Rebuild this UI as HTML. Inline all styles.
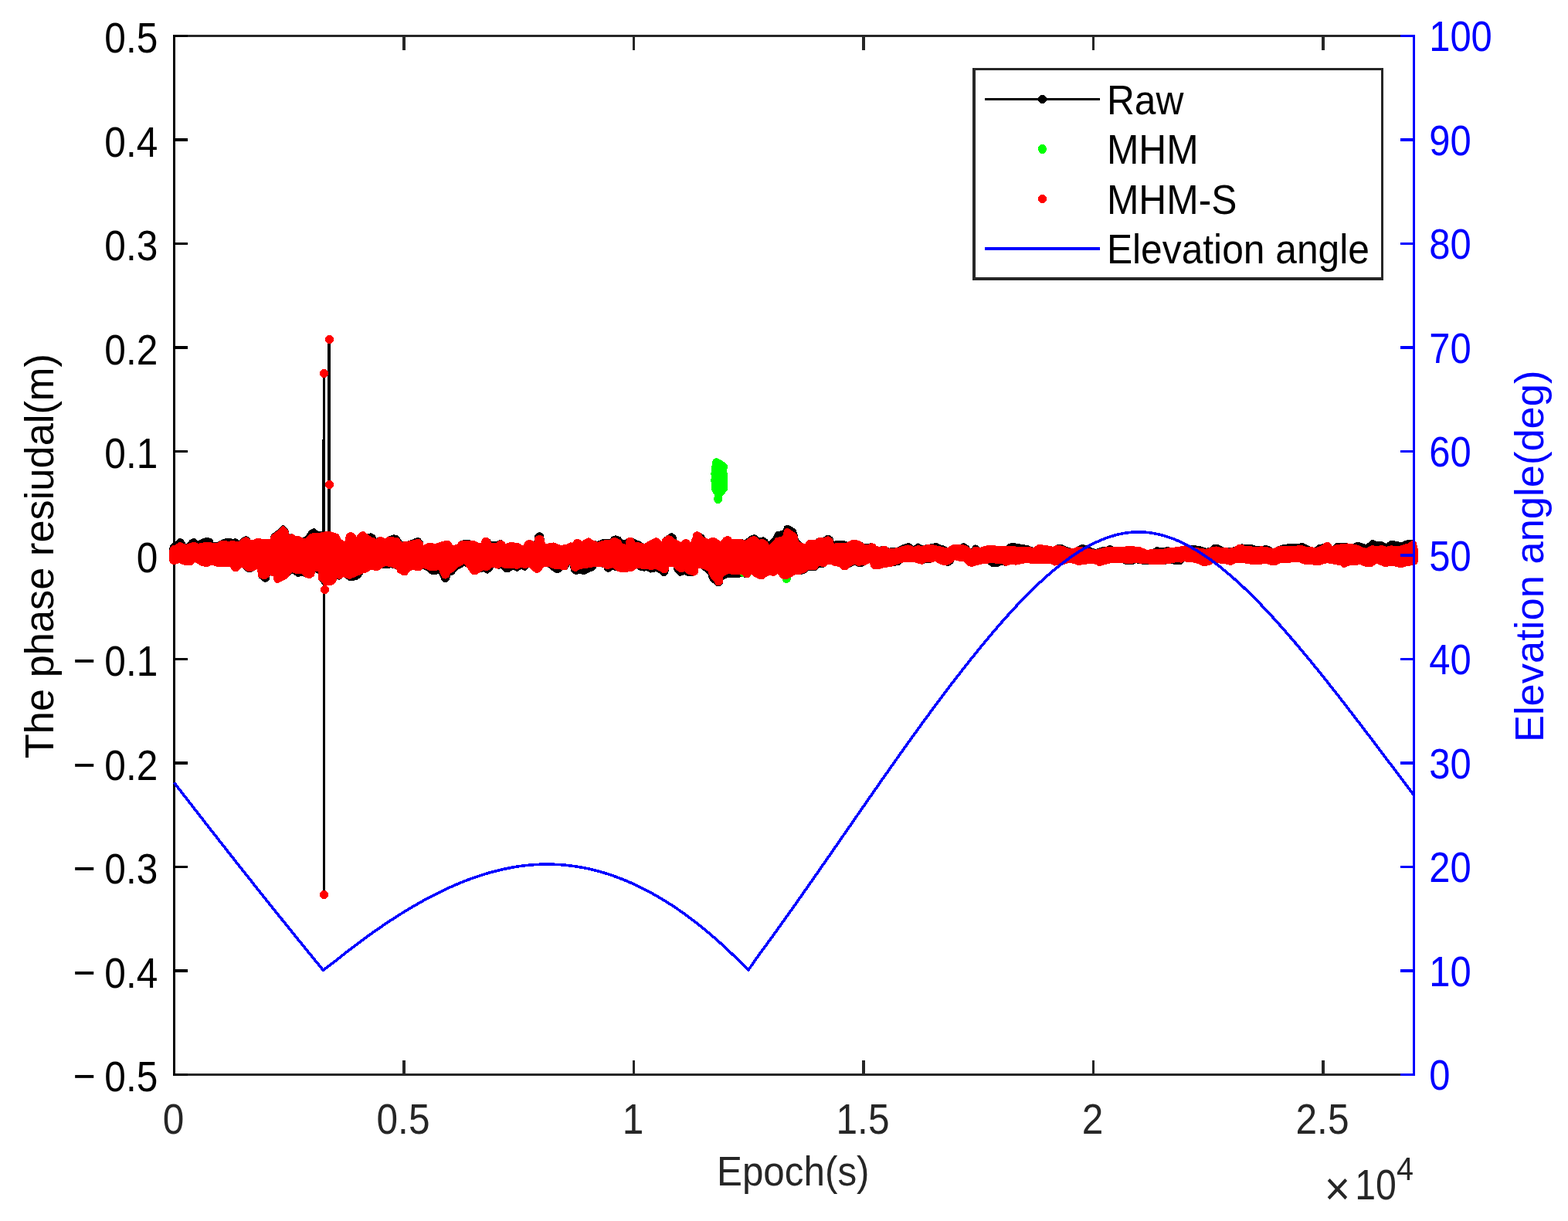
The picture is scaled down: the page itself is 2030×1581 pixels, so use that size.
<!DOCTYPE html>
<html lang="en"><head><meta charset="utf-8"><title>Phase residual and elevation angle</title>
<style>html,body{margin:0;padding:0;background:#fff;overflow:hidden}svg{display:block}text{font-family:"Liberation Sans",Arial,Helvetica,sans-serif;white-space:pre}</style>
</head><body>
<svg xmlns="http://www.w3.org/2000/svg" width="2030" height="1581" viewBox="0 0 2030 1581">
<rect x="0" y="0" width="2030" height="1581" fill="#ffffff"/>
<g shape-rendering="crispEdges">
<rect x="224" y="45" width="1608" height="3" fill="#262626"/>
<rect x="224" y="1390" width="1608" height="3" fill="#262626"/>
<rect x="521" y="1373" width="4" height="18" fill="#262626"/>
<rect x="521" y="47" width="4" height="18" fill="#262626"/>
<rect x="819" y="1373" width="3" height="18" fill="#262626"/>
<rect x="819" y="47" width="3" height="18" fill="#262626"/>
<rect x="1116" y="1373" width="4" height="18" fill="#262626"/>
<rect x="1116" y="47" width="4" height="18" fill="#262626"/>
<rect x="1414" y="1373" width="3" height="18" fill="#262626"/>
<rect x="1414" y="47" width="3" height="18" fill="#262626"/>
<rect x="1711" y="1373" width="4" height="18" fill="#262626"/>
<rect x="1711" y="47" width="4" height="18" fill="#262626"/>
<rect x="224" y="45" width="3" height="1348" fill="#000"/>
<rect x="224" y="45" width="19" height="3" fill="#000"/>
<rect x="224" y="179" width="19" height="4" fill="#000"/>
<rect x="224" y="314" width="19" height="3" fill="#000"/>
<rect x="224" y="448" width="19" height="4" fill="#000"/>
<rect x="224" y="583" width="19" height="3" fill="#000"/>
<rect x="224" y="717" width="19" height="4" fill="#000"/>
<rect x="224" y="852" width="19" height="3" fill="#000"/>
<rect x="224" y="986" width="19" height="4" fill="#000"/>
<rect x="224" y="1121" width="19" height="3" fill="#000"/>
<rect x="224" y="1255" width="19" height="4" fill="#000"/>
<rect x="224" y="1390" width="19" height="3" fill="#000"/>
</g>
<g shape-rendering="crispEdges">
<rect x="418" y="483" width="3" height="675" fill="#000"/>
<rect x="417" y="569" width="4" height="131" fill="#000"/>
<rect x="424" y="439" width="4" height="261" fill="#000"/>
<path d="M219.87,707.62 219.4,709.39 219.4,726.13 219.56,727.21 220.04,728.18 220.79,728.97 223.1,730.76 223.94,731.25 224.89,731.49 225.86,731.47 226.8,731.19 231.71,728.96 239.92,732.3 247.96,731.71 248.91,731.49 249.77,731.03 252.35,727.98 259.88,732.37 260.95,732.79 267.12,734.09 268.25,734.14 269.34,733.85 274.23,731.65 278.81,733.29 280.02,733.5 296.73,733.5 301.65,738.98 303.01,739.93 303.82,740.14 306.48,740 308.16,739.41 313,734.2 318.02,739.72 322.38,741.28 324.04,741.07 328.87,739.25 333.02,736.88 334.48,747.08 335.5,748.51 341.31,753.35 342.87,754.09 344.6,754.01 348.22,751.89 349.13,750.4 349.56,745.07 354.13,746.27 354.4,750.98 354.96,752.69 356.27,753.92 358.43,754.99 359.3,755.11 360.98,754.72 365.36,752.48 371.71,748.84 372.54,748.18 377.98,742.39 384.64,746.91 386.33,747.13 390.76,745.65 395.57,747.96 399.92,749.05 400.94,749.15 401.95,748.97 405.95,746.33 406.73,745.58 407.26,744.63 407.47,743.57 407.64,740.17 411.51,743.1 411.67,749.26 412.14,750.94 418.35,757.49 419.13,758.09 420.05,758.45 421.04,758.55 428.42,758.24 430.04,757.79 435,753.16 435.39,752.31 435.55,751.4 435.65,749.14 438.12,750.5 439.83,750.61 441.39,749.92 444.73,747.33 451.82,751.8 453.38,752.01 460.72,751.36 462.35,750.81 467.07,747.66 470.2,742.51 474.84,741.2 475.8,740.76 480.51,737.74 487.35,739.29 488.36,739.37 489.35,739.17 490.24,738.7 494.29,735.8 498.7,735.8 506.93,735.4 513.31,737.19 514.07,739.92 514.46,740.81 515.07,741.57 521.4,745.05 522.93,745.46 526.19,744.83 527.59,743.67 530.58,739.5 535.48,737.74 539.17,739.26 540.92,739.52 544.08,739.06 547.64,736.61 552.65,739.49 556.5,742.74 557.29,743.25 558.18,743.53 563.65,744.37 567.9,742.77 571.77,751.26 572.36,752.2 574.55,753.72 575.49,754.12 576.5,754.24 577.51,754.07 578.43,753.63 581.14,751.67 581.96,750.12 583.1,745.46 586.42,744.36 587.37,743.88 588.14,743.14 592.08,737.99 596.72,735.98 597.83,735.22 600.83,732.22 605.63,736.29 608.81,741.56 612.49,744.14 614.2,744.37 616.88,743.98 620.74,741.46 625.8,740.34 629.88,742.6 630.75,742.74 632.47,742.37 636.38,739.1 639.69,734.74 644.07,736.68 645.08,736.96 646.13,736.93 648.5,735.92 653.31,740.43 654.13,741 655.08,741.33 656.08,741.38 659.47,740.94 663.31,738.1 664.86,738.1 668.65,739.77 669.61,739.81 670.55,739.6 674.91,736.63 677.99,738.61 678.91,738.8 679.86,738.75 680.76,738.45 681.55,737.93 685.43,734.55 688.54,738.23 689.38,738.96 693.44,741.49 694.38,741.9 695.4,742.03 696.41,741.87 697.34,741.43 700.28,739.38 704,733.94 709.54,734.57 714.41,738.89 719.75,741.88 720.68,742.24 721.67,742.33 722.65,742.15 725.97,740.9 728.29,738.38 731.84,738.18 733.42,737.71 734.63,736.59 737.63,732.09 739.66,740.31 740.9,741.66 743.93,743.61 744.93,744.05 746.02,744.18 747.09,743.97 750.8,742.64 755.64,744.23 756.6,744.18 757.52,743.86 763.15,741.04 769.16,738.43 770.1,737.84 770.81,736.99 772.43,734.31 781.46,734.59 782.46,737.73 783.33,739.17 784.75,740.05 786.44,740.61 787.5,740.8 788.56,740.66 789.54,740.21 792.73,738.13 798.44,739.18 804.64,741.41 815.03,740.3 818.14,740.13 819.13,739.64 824.7,735.68 825.83,737.43 826.62,738.03 827.55,738.39 834.01,739.8 837.67,738.86 840.14,740.81 841.04,741.33 842.04,741.57 843.07,741.52 849.13,740.32 854.16,742.5 856.86,745.21 857.72,745.85 858.72,746.2 859.79,746.25 861.75,745.87 862.68,745.29 864.88,742.05 865.38,740.67 866.42,733.5 871.52,733.5 872.71,738.89 873.11,739.93 873.82,740.79 879.35,745.58 880.28,745.89 881.26,745.94 886.36,744.16 889.91,745.97 890.8,746.28 891.74,746.36 898.64,745.9 901.96,744.13 903.25,742.89 903.63,742.07 904.07,735.8 906.71,735.8 911.83,739.47 916.17,743.14 918,749.47 920.73,753.85 922.09,754.73 923.94,755.41 926.82,758.69 927.78,759.14 930.91,759.3 932.04,759.12 933.05,758.59 935.01,756.97 935.5,756.13 935.75,755.18 936.26,750.81 942.72,747.91 952.02,748.27 960.79,747.21 965.07,747.91 968.65,748.07 969.62,747.73 970.45,747.13 972.75,743.36 976.37,746.74 977.23,747.33 982.98,750.17 983.91,750.48 984.89,750.52 987.5,750.29 989.03,749.79 991.95,747.09 996.92,744.56 999.73,745.74 1001.42,746.02 1003.04,745.47 1006.67,743.19 1011.55,748.93 1013.03,749.6 1017.86,750.45 1019.4,750.06 1023.59,747.93 1029.66,743.72 1037.18,744.39 1043.79,741.64 1044.76,741.02 1047.22,738.81 1054.75,739.14 1055.74,739.05 1056.67,738.69 1057.46,738.09 1060.93,734.62 1065.38,734.91 1066.35,734.85 1067.26,734.53 1071.53,730.8 1076.38,730.8 1078.7,732.55 1086.2,733.86 1089.74,737.59 1090.58,738 1091.5,738.17 1094.45,738.34 1096.12,738.03 1101.22,734.21 1106.92,731.31 1110.27,733.91 1111.98,734.24 1114.52,734.12 1115.7,733.86 1120.92,731.74 1126.29,728.6 1126.59,731.97 1127.2,733.66 1130.36,736.61 1131.15,737.14 1132.05,737.45 1133,737.51 1138.27,737.13 1144.74,735.09 1154.4,733.71 1163.5,731.87 1164.52,731.5 1165.38,730.85 1167.49,728.66 1174.13,727.7 1183.9,728.2 1193.37,730.97 1195.15,730.58 1198.84,728.7 1205.05,728.7 1206.33,728.47 1210.55,726.86 1217.69,730.89 1218.75,731.28 1227.88,732.99 1228.84,732.79 1229.71,732.33 1233.59,729.47 1236.42,724.99 1238.33,725.98 1239.58,726.36 1247.71,727.27 1251.87,731.86 1252.65,732.51 1256.89,733.84 1257.91,733.97 1258.92,733.81 1265.85,731.68 1272.69,730.19 1278.3,729.72 1282.96,733.66 1284.74,734.04 1291.82,733.72 1292.99,733.47 1297.33,731.74 1301.1,732.89 1302.21,733.05 1303.31,732.86 1308.18,731.21 1315.52,731.61 1329.78,728.72 1337.13,730.49 1351.45,730.2 1359.17,729.71 1363.96,732.15 1365.56,732.54 1374.17,730.7 1378.42,730.7 1379.76,730.44 1384.06,728.72 1391.59,730.17 1394.48,731.84 1396.19,732.31 1403.78,730.7 1413.48,730.2 1418.22,730.68 1421.87,732.73 1422.86,733.11 1423.91,733.18 1424.94,732.94 1429.47,731.18 1441.15,728.7 1452.77,729.2 1457.2,730.96 1458.39,731.22 1464.96,731.47 1466.6,731.15 1470.78,729.23 1477.73,730.51 1487.1,731.18 1492.32,730.7 1504.79,731.19 1514.99,729.71 1523.27,731.18 1528.47,730.96 1529.47,730.77 1530.38,730.31 1531.12,729.62 1532.97,727.32 1544.48,728.19 1552.17,730.66 1556.34,732.74 1557.32,733.06 1558.35,733.1 1566.38,732.06 1570.39,729.21 1583.91,729.7 1593.41,732.01 1595.08,731.62 1599.87,729.19 1605.59,728.7 1613.41,729.69 1621.68,731.2 1630.98,731.2 1638.17,729.72 1645.26,731.99 1646.62,732.16 1653.06,731.59 1658.05,728.71 1667.27,729.18 1674.65,727.7 1682.36,728.19 1687.69,730.45 1688.89,730.73 1697.25,731.2 1706.46,732.14 1707.83,732.01 1715.14,729.88 1718.6,729.21 1735.07,732.17 1738.29,734.41 1739.2,734.86 1740.2,735.05 1741.21,734.94 1742.15,734.56 1745.39,732.68 1760.81,731.21 1768.72,734.31 1775.83,733.78 1776.87,733.53 1777.79,732.98 1781.7,729.79 1792.44,733.99 1803.26,732.71 1813.01,735.33 1814.12,735.45 1815.22,735.22 1819.26,733.68 1828.16,732.15 1833.57,730.63 1834.37,730 1834.95,729.17 1836,727.12 1836.4,725.48 1836.37,717.04 1835.34,709.1 1833.55,702.08 1832.4,700.78 1828.48,699.18 1823.85,698.58 1822.04,698.87 1814.05,702.37 1808.28,700.9 1801.71,699.6 1800.78,699.77 1799.92,700.18 1794.38,703.79 1788.99,700.72 1787.25,700.64 1783.66,701.38 1777.65,698.99 1776.69,699 1775.75,699.26 1774.93,699.76 1768.66,704.84 1765.08,703.93 1758.44,701.64 1756.67,701.93 1751.02,704.38 1743.98,703.4 1735.33,703.4 1730.84,703.02 1729.8,703.08 1728.82,703.44 1727.99,704.06 1724.73,707.32 1723.95,705.29 1723.03,703.93 1720.17,702.2 1719.16,701.82 1718.07,701.75 1714.86,702.91 1711.81,704.42 1705.89,705.56 1702.01,708.77 1698.45,708.31 1692.57,705.96 1688.18,703.36 1686.54,702.86 1680.45,703.9 1671,703.71 1660.41,705.49 1654.42,707.47 1648.09,710.68 1644.33,707.45 1639.09,706.1 1637.29,706.13 1633.14,707.29 1625.42,706.81 1620.09,704.91 1618.88,704.7 1612.52,704.7 1607.88,704.42 1603.57,704.81 1602.52,705.08 1601.6,705.65 1598.46,708.32 1591.78,708.8 1584.17,708.8 1579.95,706.24 1575.14,704.53 1574.12,704.59 1570.4,705.47 1569.02,706.65 1567.84,708.36 1561.34,709.78 1554.18,707.26 1544.31,705.91 1533.96,706.29 1524.82,708.3 1515.08,708.8 1512.03,707.9 1504.21,709.29 1497.73,708.02 1496.76,708.21 1495.88,708.66 1492.09,711.31 1484.61,711.79 1477.27,708.54 1476.2,708.25 1461.34,706.66 1460.2,706.71 1452.84,708.3 1442.26,708.3 1439.02,706.38 1438.14,706.01 1437.2,705.88 1436.26,706 1435.38,706.36 1432.04,708.3 1426.85,708.3 1425.57,708.53 1418.41,711.26 1403.19,704.98 1402.2,704.72 1401.18,704.75 1400.21,705.07 1393.55,708.35 1388.87,710.27 1382.22,708.34 1376.22,705.49 1368.08,705.49 1363.25,707.76 1358.95,706.58 1352.51,706.3 1346.9,704.59 1345.3,704.82 1342.79,705.78 1341.89,706.29 1338.12,709.2 1331.38,706.24 1311.77,703.01 1310.42,703.02 1305.88,704.06 1301.99,707.29 1280.04,705.94 1278.86,706.05 1268.83,708.74 1266.86,707.3 1264.52,705.91 1262.8,705.41 1261.91,705.49 1260.32,706.3 1257.33,710.44 1252.91,705.79 1249.7,703.69 1248.01,703.12 1246.26,703.42 1242.96,704.91 1233.06,705.5 1226.37,709.17 1223.63,706.94 1217.71,705.43 1213.05,703.06 1212.11,702.74 1211.12,702.68 1207.44,703.92 1199.62,705.4 1193.93,705.89 1190.39,703.92 1189.42,703.55 1188.4,703.47 1187.39,703.69 1186.49,704.18 1182.55,707.11 1179.26,704.06 1176.71,703.2 1175.59,703.06 1174.47,703.27 1166.17,706.27 1161.14,708.81 1150.68,709.58 1147.71,707.43 1144.41,706.74 1142.74,706.83 1139.54,707.79 1135.04,707.33 1132.99,704.64 1132.05,704.11 1128.74,702.94 1127,703.16 1123.82,704.39 1119.1,703.92 1114.96,701.44 1109.83,699.46 1105.01,698.66 1103.44,698.77 1102.71,699.09 1097.85,701.84 1093.76,700.36 1086.97,699.65 1079.71,700.72 1078.33,696.58 1077.41,695.13 1073.9,692.96 1073.03,692.59 1072.1,692.47 1071.17,692.59 1070.29,692.94 1065.84,695.5 1061.59,695.5 1060.57,695.65 1059.63,696.08 1055.92,698.5 1048.95,698.5 1047.26,698.92 1044.01,701.68 1043.21,702.72 1042.14,704.79 1038.24,702.8 1033.85,698.79 1032.3,691.51 1030.43,686.24 1029.52,684.83 1025.37,682.32 1021.07,680.12 1020.19,679.81 1019.26,679.73 1016.38,680.62 1015.2,681.76 1013.16,687.15 1006.07,688.09 1004.4,688.76 1003.26,690.16 1000.2,696.84 995.51,701.19 993.48,698.32 989.97,695.94 989.04,695.51 988.04,695.36 983.33,696.54 978.73,692.84 977.14,692.11 976.26,692.05 970.84,693.73 964.81,698.87 959.02,698.11 947.57,698.48 947.04,696.66 945.95,695.37 943.26,694.16 942.29,693.91 941.29,693.93 940.34,694.24 936.88,695.98 932.6,700.98 927.57,697.18 925.94,696.49 922.33,695.95 921.23,695.95 920.18,696.29 916.73,698.01 914.09,696.34 910.86,692.76 907.51,690.12 904.13,688.34 903.23,688.03 902.29,687.97 901.37,688.15 900.52,688.57 898.57,689.86 897.83,690.53 897.29,691.37 896.42,696.24 893.9,702.36 892.46,700.25 891.01,698.94 889.44,698.12 888.56,698.02 885.6,698.69 884.65,699.1 881.68,702.14 876.24,699.11 875.44,694.68 875.11,693.68 874.5,692.83 871.11,690.74 870.24,690.38 869.3,690.27 868.36,690.4 867.5,690.78 863.46,693.18 858.57,697.02 857.9,697.71 857.45,698.54 856.27,701.58 854.03,698.33 850.82,696.56 849.2,696.16 847.58,696.54 841.44,699.61 834,704.1 828.49,700.66 822.86,698.56 820.34,696.96 819.25,696.5 816.11,695.75 814.96,695.66 813.85,695.94 811.19,697.2 809.73,698.87 805.84,698.53 804.29,696.23 803.11,695.14 798.07,693.47 797.12,693.31 796.15,693.41 792.73,694.35 791.47,695.42 789.23,698.45 781.84,697.51 773.55,700.77 767.74,699.34 763.98,696.85 763.13,696.44 762.21,696.26 761.27,696.33 760.38,696.64 757.54,698.06 753.77,700.69 749.01,698.05 748.07,697.92 747.14,698.04 745.01,698.61 743.43,699.51 741.38,702.66 739.02,702.41 737.41,702.61 733.11,705.31 725.79,705.69 716.64,702.42 706.7,704.13 704.69,700.82 704.37,694.04 704.15,692.97 703.62,692.02 702.83,691.26 700.46,689.61 698.84,688.99 697.96,688.99 696.34,689.61 693.82,691.37 693.1,692.03 692.59,692.86 691.06,702.42 690.62,701.25 689.97,700.43 689.12,699.84 686.33,698.55 684.67,698.55 681.53,700.02 680.59,700.69 679.92,701.63 677.27,706.92 671.99,703.51 665.33,702.35 659.19,702.38 654.38,704.38 653.75,702.62 653.24,701.93 649.65,699.51 647.91,698.94 646.12,699.31 641.67,701.49 636.09,701.22 634.56,698.38 631.34,696.14 629.72,695.58 628.03,695.83 625.7,696.78 624.88,697.25 624.2,697.93 623.73,698.75 623.49,699.67 623.06,703.14 619.96,703.39 615.39,700.5 603.08,698.56 594.56,700.75 593.28,701.88 591.96,705.06 586,706.03 585.04,703.35 584.11,701.93 580.84,699.97 579.09,699.5 571.99,701.18 563.57,704.17 557.19,702.58 555.55,702.55 548.53,705.78 548.28,702.46 547.76,700.86 544.07,697.02 543.26,696.41 542.31,696.06 541.3,695.98 540.3,696.18 527,700.8 520.62,700.8 516.3,694.36 515.58,693.57 514.66,693.03 513.62,692.78 509.94,692.45 508.56,692.6 503.44,694.2 502.5,694.65 498.54,697.31 493.63,695.07 492.73,694.8 491.79,694.77 490.87,694.98 490.04,695.42 486.95,697.64 486.3,694.03 485.87,693.27 484.55,692.17 481.59,690.71 480.06,690.35 475.25,691.26 472.01,688.74 471.16,688.25 470.21,688.01 469.23,688.03 468.3,688.32 464.89,690.03 461.51,694.77 460.24,692.3 459.4,691.6 455.78,689.4 454.83,689 453.8,688.88 452.78,689.06 451.85,689.53 449.17,691.4 448.48,692.03 447.97,692.81 446.2,701.76 441.38,697.63 438.47,691.99 437.72,691.36 436.83,690.95 428.64,688.47 427.5,688.31 417.45,688.6 411.57,687.54 408.48,684.9 406.85,684.1 405.03,684.21 401.25,686.49 400.28,687.41 395.68,693.76 391.58,696.49 387.93,694.43 382.72,694.3 378.86,691.3 377.91,691.03 376.92,691.03 374.89,691.77 373.05,685.55 369.31,681.39 368.59,680.79 367.73,680.4 366.81,680.24 365.87,680.33 364.99,680.66 364.22,681.2 357.32,687.64 351.26,692.13 350.49,693.78 349.7,698.08 339.56,697.7 333.04,696.75 331.45,697.26 328.71,698.91 324.75,699.26 324.14,697.38 323.58,696.63 320.37,694.56 318.6,694.05 316.82,694.47 312.66,696.78 309.81,700.17 305.95,697.34 305.01,697.09 304.05,697.11 301.58,698.05 298.27,696.88 296.62,696.69 290.4,697.6 285.94,699.47 281.62,701.91 276.87,702.27 275.32,698.97 274.76,698.12 273.99,697.46 268.56,695.72 266.98,695.61 260.59,698.06 256.1,700.65 252.79,697.55 251.8,697.2 250.75,697.14 249.73,697.39 245.8,699.1 241.23,704.61 237.31,699.08 236.59,698.33 234.44,697.32 233.48,697.09 232.49,697.12 231.54,697.43 230.72,697.98 226.67,701.59 223.29,703.05 222.31,703.68 221.58,704.58 219.87,707.62Z" fill="#000"/>
<polygon points="927.4,593 934.4,596.1 938.6,599.1 941.9,602.2 941.9,606.7 941,607.2 941,611.9 941.9,612.5 941.9,634.7 938,639.2 935,642.9 935,648.9 931.9,651.8 927.4,651.8 924,647.7 924,644.1 924.9,643.5 924.9,641 921,634.7 921,624 919.9,623.7 919.9,620.1 921,619.8 921,614.9 919.9,614.9 919.9,611.9 921,611.6 921,603.1 922.1,602.8 922.1,597.3 924,594" fill="#00ff00"/>
<circle cx="1018.2" cy="749.4" r="5.6" fill="#00ff00"/>
<circle cx="967" cy="742.5" r="5.6" fill="#00ff00"/>
<circle cx="963" cy="742" r="5.6" fill="#00ff00"/>
<path d="M219.87,710.62 219.4,712.39 219.4,726.13 219.56,727.21 220.04,728.18 220.79,728.97 223.1,730.76 223.94,731.25 224.89,731.49 225.86,731.47 226.8,731.19 231.71,728.96 239.92,732.3 247.96,731.71 248.91,731.49 249.77,731.03 252.35,727.98 259.88,732.37 260.95,732.79 267.12,734.09 268.25,734.14 269.34,733.85 274.23,731.65 278.81,733.29 280.02,733.5 296.73,733.5 301.65,738.98 303.01,739.93 303.82,740.14 306.48,740 308.16,739.41 313.04,734.16 318.02,738.76 321.8,740.18 322.77,740.38 328.55,739.29 329.62,738.87 333.02,736.88 334.18,745.64 334.42,746.55 334.9,747.38 335.58,748.04 339.48,749.72 341.67,750.35 343.34,750.43 344.87,749.74 348.11,747.24 349.15,745.96 349.45,745.04 354.13,746.27 354.4,750.98 354.96,752.69 356.27,753.92 358.43,754.99 359.3,755.11 360.98,754.72 365.36,752.48 371.62,748.9 372.62,748.05 378.11,741.29 385.47,743.42 390.57,742.65 394.33,746.98 395.16,747.69 396.17,748.11 400.94,749.15 401.95,748.97 402.87,748.5 405.95,746.33 406.73,745.58 407.26,744.63 407.47,743.57 407.67,739.7 411.51,740.31 411.67,748.72 412.16,750.48 413.46,751.77 416.17,753.34 418.87,757.54 419.64,758.1 420.54,758.44 421.49,758.53 428.42,758.24 429.25,758.11 430.72,757.29 434.99,753.16 435.39,752.31 435.54,751.38 435.66,748.14 437.56,749.29 438.45,749.67 439.4,749.81 440.35,749.69 441.24,749.32 444.75,747.26 450.97,749.63 452.76,749.83 461.59,746.27 470,742.57 474.84,741.2 475.8,740.76 480.51,737.74 487.35,739.29 488.36,739.37 489.35,739.17 498.73,732.84 506.82,734.38 513.3,737.14 514.07,739.92 514.46,740.81 515.07,741.57 521.4,745.05 522.93,745.46 525.32,745.11 526.97,744.34 530.58,739.5 535.48,737.74 540.03,739.5 543.7,739.13 545.08,738.27 547.75,735.6 556.76,739.15 558.04,739.41 563.7,739.43 567.86,737.79 569.87,742.89 572.14,747.77 572.87,748.45 573.76,748.9 576.06,749.56 576.97,749.52 580.1,748.21 580.97,747.66 581.64,746.89 582.06,745.96 583.11,742.41 586.97,740.26 587.87,739.55 592.06,735 596.93,732.89 600.7,730.22 605.61,736.24 608.81,741.56 611.72,743.73 613.33,744.36 616.88,743.98 626.01,738.33 629.65,739.09 630.73,739.15 631.78,738.88 632.7,738.32 635.98,735.55 639.45,734.63 643.32,736.35 645.12,736.64 646.83,736.01 648.77,733.93 654.62,736.4 659.33,736.1 664.92,736.1 669.2,737.1 670.91,736.69 674.92,734.57 678,736.01 678.91,736.29 679.86,736.33 685.32,734.41 688.54,738.23 689.38,738.96 693.44,741.49 694.38,741.9 695.4,742.03 696.41,741.87 697.34,741.43 700.28,739.38 704.03,733.88 709.68,733.61 714.52,735.85 720.5,737.44 721.82,737.53 725.57,737.12 727.89,738.26 731.62,738.2 732.54,738.02 733.38,737.62 734.09,737.02 737.71,730.27 739.26,736.26 739.68,737.24 740.36,738.06 741.26,738.64 743.65,739.72 744.56,740 745.51,740.02 746.44,739.8 747.27,739.34 751,736.6 756.49,736.43 763,735.09 769.82,734.1 781.6,734.59 782.93,736.06 783.76,736.51 787.14,737.01 788.07,736.99 788.97,736.73 792.54,735.18 798.73,739.29 804.64,741.41 815.03,740.3 818.14,740.13 819.13,739.64 824.96,735.49 826.84,736.15 833.74,736.88 837.73,736.8 840.97,737.66 842.13,737.77 849.09,737.31 854.2,739.52 857.78,742.03 859.52,742.27 862.28,741.82 863.19,741.26 864.84,739.75 865.49,738.27 866.4,733.5 871.64,733.5 872.66,735.4 873.67,736.58 878.85,740.46 879.74,740.95 880.74,741.17 881.76,741.1 886.26,740.14 890.18,743.01 891.14,743.52 897.03,745.53 898.02,745.72 899.03,745.63 899.97,745.26 902.68,743.59 903.63,742.07 903.79,741.19 904.07,735.8 906.8,735.8 911.99,737.56 916.21,739.25 917.96,744.41 920.61,748.81 923.81,752.26 926.59,757.18 927.35,757.79 928.24,758.17 930.91,758.3 932.04,758.12 933.05,757.59 934.99,755.98 935.48,755.08 935.7,754.08 936.27,746.76 942.72,742.93 951.37,744.26 960.58,744.2 963.86,747.1 964.83,747.71 967.63,748.13 968.65,748.07 969.62,747.73 970.45,747.13 972.75,743.36 976.37,746.74 977.23,747.33 982.98,750.17 983.91,750.48 984.89,750.52 987.5,750.29 989.03,749.79 991.95,747.09 996.92,744.56 999.73,745.74 1001.42,746.02 1003.04,745.47 1006.67,743.19 1011.55,748.93 1013.03,749.6 1017.86,750.45 1019.4,750.06 1023.59,747.93 1029.7,743.7 1036.53,743.52 1037.87,743.22 1043.79,740.64 1044.76,740.02 1047.22,737.81 1054.58,738.13 1056.2,737.82 1057.52,736.82 1060.88,732.72 1064.73,734.26 1065.71,734.5 1066.71,734.46 1067.66,734.14 1068.49,733.57 1071.53,730.8 1076.38,730.8 1078.7,732.55 1086.2,733.86 1089.03,736.99 1089.74,737.59 1090.58,738 1094.26,738.33 1095.24,738.25 1096.16,737.9 1101.25,733.19 1106.92,730.31 1110.27,732.91 1111.1,733.18 1112.17,733.24 1113.9,732.7 1114.99,731.6 1121.02,731.57 1126.29,728.6 1126.59,731.97 1127.2,733.66 1130.36,736.61 1131.15,737.14 1132.05,737.45 1133,737.51 1138.27,737.13 1144.74,735.09 1154.12,733.75 1167.34,728.69 1174.13,727.7 1183.9,728.2 1193.02,730.89 1194.63,730.63 1198.85,727.73 1205.65,728.6 1210.55,726.86 1217.69,730.89 1218.75,731.28 1222.69,732.07 1224.11,732.07 1227.9,731.29 1229.06,730.84 1233.13,728.35 1233.95,727.66 1236.34,724.95 1238.33,725.98 1239.58,726.36 1247.71,727.27 1251.87,731.86 1252.65,732.51 1256.89,733.84 1257.91,733.97 1258.92,733.81 1265.85,731.68 1272.69,730.19 1283.51,729.2 1297.11,730.19 1300.69,732.38 1301.65,732.79 1302.69,732.91 1303.72,732.72 1308.18,731.21 1315.52,731.61 1329.78,728.72 1337.13,730.49 1351.45,730.2 1359.17,729.71 1363.96,732.15 1365.56,732.54 1374.17,730.7 1378.42,730.7 1379.76,730.44 1384.06,728.72 1391.59,730.17 1394.48,731.84 1396.19,732.31 1403.78,730.7 1413.48,730.2 1418.22,730.68 1421.87,732.73 1422.86,733.11 1423.91,733.18 1424.94,732.94 1429.47,731.18 1441.15,728.7 1452.86,729.2 1458.05,729.7 1465.55,729.7 1470.71,729.2 1487.44,730.5 1504.79,731.19 1515.03,729.7 1522.93,728.2 1529.89,728.59 1532.82,727.31 1544.48,728.19 1552.17,730.66 1556.34,732.74 1557.32,733.06 1558.35,733.1 1566.38,732.06 1570.39,729.21 1583.91,729.7 1593.41,732.01 1595.08,731.62 1599.87,729.19 1605.59,728.7 1613.41,729.69 1621.68,731.2 1630.98,731.2 1638.17,729.72 1645.26,731.99 1646.62,732.16 1653.06,731.59 1658.05,728.71 1667.27,729.18 1674.65,727.7 1682.36,728.19 1687.69,730.45 1688.89,730.73 1697.25,731.2 1706.46,732.14 1707.83,732.01 1715.14,729.88 1718.6,729.21 1735.07,732.17 1738.29,734.41 1739.2,734.86 1740.2,735.05 1741.21,734.94 1742.15,734.56 1745.39,732.68 1760.81,731.21 1768.72,734.31 1775.83,733.78 1776.87,733.53 1777.79,732.98 1781.7,729.79 1792.44,733.99 1803.26,732.71 1813.01,735.33 1814.12,735.45 1815.22,735.22 1819.26,733.68 1828.16,732.15 1833.57,730.63 1834.37,730 1834.95,729.17 1836,727.12 1836.4,725.48 1836.37,717.04 1835.42,709.49 1833.94,703.26 1833.56,702.3 1832.91,701.49 1832.06,700.89 1829.23,700.23 1828.29,700.19 1827.37,700.38 1822.73,703.46 1813.96,706.32 1808.19,707.29 1801.92,706.38 1800.64,706.43 1794.44,707.78 1789.61,706.14 1788.51,705.95 1787.4,706.11 1783.57,707.28 1777.04,706.04 1775.51,706.42 1768.73,709.76 1765.1,708.83 1757.81,705.75 1751.3,704.43 1744.67,703.46 1735.32,704.39 1729.73,705.34 1724.82,707.57 1723.95,705.29 1723.03,703.93 1720.17,702.2 1719.16,701.82 1718.07,701.75 1715.32,702.72 1714.16,703.5 1711.66,705.99 1705.95,708.41 1702.21,708.8 1698.07,708.3 1692.41,708.4 1687.66,706.55 1686.3,706.31 1680.33,706.41 1670.67,707.3 1655.65,707.31 1653.96,707.7 1648,710.73 1644.81,709.09 1643.71,708.73 1633.54,707.34 1625.3,707.8 1619.3,707.4 1612.67,707.4 1608.78,705.02 1607.7,704.58 1606.53,704.51 1602.52,705.08 1601.6,705.65 1598.43,708.35 1591.77,709.79 1584.27,708.83 1580.08,708.8 1575.82,707.58 1574.47,707.46 1568.3,708.27 1561.24,710.78 1544.7,708.41 1533.69,706.37 1524.82,708.3 1515.14,708.79 1512.03,709.29 1504.15,711.29 1496.98,710.83 1484.61,711.79 1477.27,708.54 1476.2,708.25 1461.34,706.66 1460.2,706.71 1452.84,708.3 1431.66,708.42 1418.39,711.78 1401.38,708.3 1394.39,708.3 1393.03,708.57 1388.82,710.28 1382.16,709.32 1375.92,706.85 1369.29,705.6 1368.14,705.57 1367.04,705.9 1363.25,707.76 1358.95,706.58 1352.51,706.3 1346.9,704.59 1345.3,704.82 1342.79,705.78 1341.89,706.29 1338.06,709.25 1331.33,707.8 1322.91,707.9 1315.07,707.6 1311.67,706.9 1310.59,706.85 1306.07,707.3 1302.22,707.3 1280.04,705.94 1278.86,706.05 1268.69,708.78 1263.23,707.65 1262.22,707.61 1261.25,707.85 1260.37,708.34 1257.4,710.64 1252.76,707.3 1247.63,705.36 1242.84,704.91 1233.06,705.5 1226.19,709.27 1211.75,706.32 1208.37,705.13 1206.96,704.94 1199.94,705.38 1193.78,706.89 1188.36,706.01 1182.55,707.94 1178.69,706.02 1175.59,705.48 1166.12,707.8 1161.19,709.31 1150.72,710.18 1148.57,708.1 1147.71,707.49 1146.71,707.15 1143.57,706.69 1139.54,707.79 1135.04,707.33 1132.99,704.64 1132.05,704.11 1128.78,702.99 1127.79,703.04 1126.85,703.36 1123.77,704.89 1119.13,704.71 1115.75,701.94 1114.77,701.37 1109.83,699.46 1105.01,698.66 1103.44,698.77 1102.71,699.09 1097.64,701.96 1094.02,703.39 1086.97,702.65 1079.73,703.72 1078.31,698.7 1077.39,697.13 1073.68,694.83 1072.12,694.35 1070.5,694.61 1065.94,696.48 1062,695.73 1060.19,695.86 1055.92,698.5 1048.08,698.61 1046.55,699.42 1044.01,701.68 1043.21,702.72 1042.14,704.79 1033.83,700.69 1032.5,694.34 1031.99,693.09 1029.85,690.02 1025.32,687.29 1021.26,684.45 1020.27,683.97 1019.19,683.81 1018.11,683.97 1016.49,684.61 1015.25,685.94 1013.1,694.2 1004.64,696.35 1003.36,697.46 1000.27,701.77 995.61,705.2 993.47,701.36 989.71,698.77 988.21,698.22 983.39,698.58 978.73,694.84 977.14,694.11 975.39,694.21 971.36,695.49 970.37,695.98 964.9,699.84 959.97,698.28 958.77,698.12 947.57,698.48 947.04,696.66 945.95,695.37 943.26,694.16 942.29,693.91 941.29,693.93 940.34,694.24 936.88,695.98 932.6,700.98 927.57,697.18 925.94,696.49 922.33,695.95 921.23,695.95 920.18,696.29 916.73,698.01 913.88,696.3 911.06,695.84 907.23,690.04 904.13,688.34 903.23,688.03 902.29,687.97 901.37,688.15 900.52,688.57 898.57,689.86 897.83,690.53 897.29,691.37 896.42,696.24 893.9,702.36 892.46,700.25 891.01,698.94 889.44,698.12 888.56,698.02 885.6,698.69 884.65,699.1 881.68,702.14 876.55,699.29 874.86,698.82 870.45,694.66 869.48,694.01 868.36,693.7 864.88,693.33 863.06,693.61 858.57,697.02 857.9,697.71 857.45,698.54 856.27,701.58 854.64,699.06 854.03,698.33 853.25,697.8 850.04,696.26 848.37,696.26 841.44,699.61 833.92,704.15 828.51,702.56 827.43,702.41 822.96,702.49 820.76,698.16 820.17,697.32 819.35,696.68 818.39,696.29 816.11,695.75 814.96,695.66 813.85,695.94 811.97,696.86 811.34,697.47 810.61,699.06 809.54,704.73 805.92,703.6 804.2,700.31 803.5,699.39 802.55,698.73 797.21,696.29 792.9,696.41 792.04,696.79 791.31,697.37 789.25,699.5 782.35,699.41 781.31,699.55 773.63,701.77 767.78,699.37 763.98,696.85 763.13,696.44 762.21,696.26 761.27,696.33 760.38,696.64 757.54,698.06 753.77,700.69 749.01,698.05 748.07,697.92 747.14,698.04 745.01,698.61 743.43,699.51 741.38,702.66 739.02,702.41 737.41,702.61 733.11,705.31 725.79,705.69 716.64,702.42 706.7,704.13 704.69,700.81 704.42,697.24 703.83,695.51 702.47,694.3 700.03,693.06 698.4,692.67 696.77,693.06 694.17,694.38 692.9,695.45 692.25,696.98 691.16,703.29 690.6,701.3 689.94,700.43 689.05,699.8 686.33,698.55 684.67,698.55 681.53,700.02 680.59,700.69 679.92,701.63 677.27,706.92 671.99,703.51 665.33,702.35 659.19,702.38 654.38,704.38 653.75,702.62 653.24,701.93 650.06,699.77 648.36,699.21 646.6,699.54 645.83,700.02 641.6,703.49 636.16,703.22 635.09,699.6 634.24,698.13 631.34,696.14 629.72,695.58 628.03,695.83 625.7,696.78 624.88,697.25 624.2,697.93 623.73,698.75 623.49,699.67 623.06,703.14 619.96,703.39 616.17,700.92 614.47,700.34 602.69,699.55 594.75,700.82 593.93,701.31 593.27,702 591.96,705.06 586,706.03 585.04,703.35 584.11,701.93 580.84,699.97 579.09,699.5 571.99,701.18 563.57,704.17 557.19,702.58 555.55,702.55 548.52,705.79 548.31,703.6 548.1,702.67 547.65,701.83 543.83,698.57 542.36,697.85 540.72,697.86 533.87,699.51 527,700.81 520.53,701.76 516.24,696.98 514.75,695.99 509.38,695.4 504.51,694.53 502.68,694.67 498.54,697.31 493.63,695.07 492.73,694.8 491.79,694.77 490.87,694.98 490.04,695.42 486.65,697.86 485.58,696.85 484.78,696.5 480.67,695.26 472.01,688.74 471.16,688.25 470.21,688.01 469.23,688.03 468.3,688.32 464.89,690.03 461.51,694.77 460.24,692.3 459.4,691.6 455.78,689.4 454.83,689 453.8,688.88 452.78,689.06 451.85,689.53 449.17,691.4 448.48,692.03 447.97,692.81 446.2,701.76 441.38,697.63 439.01,692.8 438.47,691.99 437.72,691.36 428.64,688.47 427.5,688.31 417.8,688.59 411.28,690.48 407.55,689.56 405.97,689.53 401.34,691.53 400.3,692.24 395.86,696.6 391.77,696.6 387.93,694.43 382.72,694.3 380.09,692.13 379.28,691.62 378.37,691.35 377.42,691.32 376.49,691.55 374.84,692.6 373.05,686.55 369.31,682.39 368.59,681.79 367.73,681.4 366.81,681.24 365.87,681.33 364.99,681.66 364.22,682.2 357.32,688.64 351.24,693.14 350.47,694.69 349.72,698.08 339.56,697.7 333.04,696.75 331.45,697.26 328.71,698.91 324.69,699.26 323.93,697.91 323.06,697.17 320.37,695.56 318.6,695.05 316.82,695.47 312.66,697.78 309.65,701.35 302.08,700.16 297.37,700.6 291.08,700.4 287.95,699.65 286.88,699.56 285.83,699.79 284.89,700.32 281.57,702.92 276.59,703.29 273.95,702.36 268.08,701.49 266.68,701.56 260.48,703.11 256.1,703.78 253.06,702.18 251.43,701.77 246.23,702.85 241.19,704.95 234.23,702.24 232.48,702.01 230.83,702.65 226.76,705.54 222.86,706.48 222.03,707.08 221.41,707.89 219.87,710.62Z" fill="#ff0000"/>
<circle cx="426.5" cy="439.5" r="5.5" fill="#ff0000"/>
<circle cx="419.5" cy="483.5" r="5.5" fill="#ff0000"/>
<circle cx="426.5" cy="627.5" r="5.5" fill="#ff0000"/>
<circle cx="420.5" cy="763.5" r="5.5" fill="#ff0000"/>
<circle cx="419.5" cy="1158.5" r="5.5" fill="#ff0000"/>
</g>
<path d="M225.5,1013.4 L243.04,1036.08 L260.57,1058.63 L278.11,1081.07 L295.65,1103.39 L313.18,1125.59 L330.72,1147.67 L348.25,1169.64 L365.79,1191.48 L383.33,1213.21 L400.86,1234.81 L418.4,1256.3 L418.4,1256.3C420.75,1254.53 427.81,1249.3 432.51,1245.66C437.22,1242.02 441.92,1238.14 446.63,1234.47C451.33,1230.8 456.03,1227.19 460.74,1223.64C465.44,1220.1 470.15,1216.61 474.85,1213.2C479.56,1209.79 484.26,1206.44 488.96,1203.17C493.67,1199.9 498.37,1196.7 503.08,1193.58C507.78,1190.46 512.49,1187.41 517.19,1184.45C521.89,1181.49 526.6,1178.61 531.3,1175.81C536.01,1173.01 540.71,1170.3 545.42,1167.68C550.12,1165.06 554.82,1162.52 559.53,1160.09C564.23,1157.65 568.94,1155.3 573.64,1153.06C578.35,1150.81 583.05,1148.66 587.75,1146.61C592.46,1144.57 597.16,1142.62 601.87,1140.78C606.57,1138.94 611.28,1137.21 615.98,1135.59C620.68,1133.97 625.39,1132.45 630.09,1131.05C634.8,1129.66 639.5,1128.37 644.21,1127.21C648.91,1126.05 653.61,1125 658.32,1124.08C663.02,1123.15 667.73,1122.35 672.43,1121.68C677.14,1121.01 681.84,1120.46 686.54,1120.04C691.25,1119.63 695.95,1119.34 700.66,1119.19C705.36,1119.05 710.06,1119.03 714.77,1119.16C719.47,1119.28 724.18,1119.54 728.88,1119.94C733.59,1120.33 738.29,1120.87 742.99,1121.53C747.7,1122.2 752.4,1123.01 757.11,1123.94C761.81,1124.88 766.52,1125.96 771.22,1127.17C775.92,1128.38 780.63,1129.72 785.33,1131.2C790.04,1132.68 794.74,1134.29 799.45,1136.04C804.15,1137.79 808.85,1139.67 813.56,1141.69C818.26,1143.7 822.97,1145.85 827.67,1148.14C832.38,1150.42 837.08,1152.84 841.78,1155.39C846.49,1157.94 851.19,1160.62 855.9,1163.44C860.6,1166.26 865.31,1169.21 870.01,1172.29C874.71,1175.37 879.42,1178.58 884.12,1181.93C888.83,1185.28 893.53,1188.76 898.24,1192.37C902.94,1195.98 907.64,1199.72 912.35,1203.59C917.05,1207.47 921.76,1211.47 926.46,1215.61C931.17,1219.75 935.87,1224.01 940.57,1228.41C945.28,1232.81 949.98,1237.37 954.69,1242C959.39,1246.63 966.45,1253.83 968.8,1256.2 L968.8,1256.2C970.88,1253.19 977.13,1244 981.29,1238.15C985.45,1232.3 989.61,1226.84 993.78,1221.13C997.94,1215.41 1002.1,1209.66 1006.27,1203.87C1010.43,1198.09 1014.59,1192.27 1018.75,1186.42C1022.92,1180.58 1027.08,1174.7 1031.24,1168.8C1035.4,1162.9 1039.57,1156.97 1043.73,1151.03C1047.89,1145.09 1052.06,1139.13 1056.22,1133.15C1060.38,1127.18 1064.54,1121.18 1068.71,1115.19C1072.87,1109.19 1077.03,1103.18 1081.2,1097.16C1085.36,1091.15 1089.52,1085.13 1093.68,1079.11C1097.85,1073.09 1102.01,1067.07 1106.17,1061.06C1110.34,1055.04 1114.5,1049.03 1118.66,1043.03C1122.82,1037.03 1126.99,1031.04 1131.15,1025.06C1135.31,1019.09 1139.47,1013.12 1143.64,1007.18C1147.8,1001.24 1151.96,995.31 1156.13,989.41C1160.29,983.51 1164.45,977.63 1168.61,971.78C1172.78,965.93 1176.94,960.1 1181.1,954.32C1185.27,948.53 1189.43,942.77 1193.59,937.06C1197.75,931.34 1201.92,925.66 1206.08,920.02C1210.24,914.38 1214.41,908.79 1218.57,903.24C1222.73,897.69 1226.89,892.19 1231.06,886.74C1235.22,881.3 1239.38,875.9 1243.54,870.56C1247.71,865.22 1251.87,859.93 1256.03,854.71C1260.2,849.49 1264.36,844.33 1268.52,839.24C1272.68,834.14 1276.85,829.11 1281.01,824.16C1285.17,819.21 1289.34,814.32 1293.5,809.53C1297.66,804.74 1301.82,800.02 1305.99,795.41C1310.15,790.8 1314.31,786.28 1318.48,781.88C1322.64,777.47 1326.8,773.17 1330.96,768.99C1335.13,764.81 1339.29,760.74 1343.45,756.81C1347.61,752.89 1351.78,749.08 1355.94,745.42C1360.1,741.76 1364.27,738.24 1368.43,734.87C1372.59,731.51 1376.75,728.29 1380.92,725.24C1385.08,722.19 1389.24,719.29 1393.41,716.58C1397.57,713.87 1401.73,711.33 1405.89,708.98C1410.06,706.63 1414.22,704.45 1418.38,702.48C1422.55,700.52 1426.71,698.73 1430.87,697.17C1435.03,695.61 1439.2,694.24 1443.36,693.1C1447.52,691.97 1451.69,691.04 1455.85,690.35C1460.01,689.66 1464.17,689.19 1468.34,688.97C1472.5,688.76 1476.66,688.78 1480.82,689.04C1484.99,689.3 1489.15,689.8 1493.31,690.53C1497.48,691.25 1501.64,692.2 1505.8,693.36C1509.96,694.52 1514.13,695.91 1518.29,697.48C1522.45,699.06 1526.62,700.85 1530.78,702.82C1534.94,704.79 1539.1,706.96 1543.27,709.3C1547.43,711.65 1551.59,714.18 1555.76,716.87C1559.92,719.56 1564.08,722.43 1568.24,725.44C1572.41,728.45 1576.57,731.64 1580.73,734.95C1584.89,738.27 1589.06,741.75 1593.22,745.34C1597.38,748.94 1601.55,752.68 1605.71,756.53C1609.87,760.39 1614.03,764.38 1618.2,768.46C1622.36,772.55 1626.52,776.76 1630.69,781.06C1634.85,785.36 1639.01,789.77 1643.17,794.25C1647.34,798.74 1651.5,803.33 1655.66,807.98C1659.83,812.63 1663.99,817.37 1668.15,822.17C1672.31,826.97 1676.48,831.84 1680.64,836.76C1684.8,841.69 1688.96,846.68 1693.13,851.72C1697.29,856.76 1701.45,861.86 1705.62,867C1709.78,872.14 1713.94,877.33 1718.1,882.56C1722.27,887.79 1726.43,893.07 1730.59,898.38C1734.76,903.69 1738.92,909.04 1743.08,914.41C1747.24,919.79 1751.41,925.2 1755.57,930.62C1759.73,936.05 1763.9,941.5 1768.06,946.97C1772.22,952.43 1776.38,957.92 1780.55,963.41C1784.71,968.91 1788.87,974.42 1793.03,979.93C1797.2,985.43 1801.36,990.95 1805.52,996.46C1809.69,1001.97 1813.85,1007.43 1818.01,1012.99C1822.17,1018.55 1828.42,1027 1830.5,1029.8" fill="none" stroke="#0000ff" stroke-width="3.6" stroke-linejoin="miter" stroke-linecap="butt" shape-rendering="crispEdges"/>
<g shape-rendering="crispEdges">
<rect x="1829" y="45" width="3" height="1348" fill="#0000ff"/>
<rect x="1813" y="45" width="19" height="3" fill="#0000ff"/>
<rect x="1813" y="179" width="19" height="4" fill="#0000ff"/>
<rect x="1813" y="314" width="19" height="3" fill="#0000ff"/>
<rect x="1813" y="448" width="19" height="4" fill="#0000ff"/>
<rect x="1813" y="583" width="19" height="3" fill="#0000ff"/>
<rect x="1813" y="717" width="19" height="4" fill="#0000ff"/>
<rect x="1813" y="852" width="19" height="3" fill="#0000ff"/>
<rect x="1813" y="986" width="19" height="4" fill="#0000ff"/>
<rect x="1813" y="1121" width="19" height="3" fill="#0000ff"/>
<rect x="1813" y="1255" width="19" height="4" fill="#0000ff"/>
<rect x="1813" y="1390" width="19" height="3" fill="#0000ff"/>
</g>
<g shape-rendering="crispEdges">
<rect x="1259" y="88" width="532" height="275" fill="#262626"/>
<rect x="1263" y="91" width="525" height="268" fill="#fff"/>
<rect x="1275" y="127" width="149" height="3" fill="#000"/>
<circle cx="1349.5" cy="128.5" r="5.5" fill="#000"/>
<ellipse cx="1349.5" cy="193" rx="5.5" ry="6" fill="#00ff00"/>
<circle cx="1349.5" cy="257.5" r="5.5" fill="#ff0000"/>
<rect x="1275" y="320" width="149" height="4" fill="#0000ff"/>
</g>
<text transform="translate(204.3,68) scale(0.9053,1)" font-size="54.8" fill="#000" text-anchor="end">0.5</text>
<text transform="translate(204.3,203) scale(0.9053,1)" font-size="54.8" fill="#000" text-anchor="end">0.4</text>
<text transform="translate(204.3,337) scale(0.9053,1)" font-size="54.8" fill="#000" text-anchor="end">0.3</text>
<text transform="translate(204.3,472) scale(0.9053,1)" font-size="54.8" fill="#000" text-anchor="end">0.2</text>
<text transform="translate(204.3,606) scale(0.9053,1)" font-size="54.8" fill="#000" text-anchor="end">0.1</text>
<text transform="translate(204.3,741) scale(0.9053,1)" font-size="54.8" fill="#000" text-anchor="end">0</text>
<text transform="translate(204.3,875) scale(0.9053,1)" font-size="54.8" fill="#000" text-anchor="end">0.1</text>
<text transform="translate(94.5,874) scale(0.9053,1)" font-size="54.8" fill="#000" text-anchor="start">−</text>
<text transform="translate(204.3,1010) scale(0.9053,1)" font-size="54.8" fill="#000" text-anchor="end">0.2</text>
<text transform="translate(94.5,1009) scale(0.9053,1)" font-size="54.8" fill="#000" text-anchor="start">−</text>
<text transform="translate(204.3,1144) scale(0.9053,1)" font-size="54.8" fill="#000" text-anchor="end">0.3</text>
<text transform="translate(94.5,1143) scale(0.9053,1)" font-size="54.8" fill="#000" text-anchor="start">−</text>
<text transform="translate(204.3,1279) scale(0.9053,1)" font-size="54.8" fill="#000" text-anchor="end">0.4</text>
<text transform="translate(94.5,1278) scale(0.9053,1)" font-size="54.8" fill="#000" text-anchor="start">−</text>
<text transform="translate(204.3,1413) scale(0.9053,1)" font-size="54.8" fill="#000" text-anchor="end">0.5</text>
<text transform="translate(94.5,1412) scale(0.9053,1)" font-size="54.8" fill="#000" text-anchor="start">−</text>
<text transform="translate(1850.2,66) scale(0.8930,1)" font-size="54.8" fill="#0000ff" text-anchor="start">100</text>
<text transform="translate(1850.2,201) scale(0.8930,1)" font-size="54.8" fill="#0000ff" text-anchor="start">90</text>
<text transform="translate(1850.2,335) scale(0.8930,1)" font-size="54.8" fill="#0000ff" text-anchor="start">80</text>
<text transform="translate(1850.2,470) scale(0.8930,1)" font-size="54.8" fill="#0000ff" text-anchor="start">70</text>
<text transform="translate(1850.2,604) scale(0.8930,1)" font-size="54.8" fill="#0000ff" text-anchor="start">60</text>
<text transform="translate(1850.2,739) scale(0.8930,1)" font-size="54.8" fill="#0000ff" text-anchor="start">50</text>
<text transform="translate(1850.2,873) scale(0.8930,1)" font-size="54.8" fill="#0000ff" text-anchor="start">40</text>
<text transform="translate(1850.2,1008) scale(0.8930,1)" font-size="54.8" fill="#0000ff" text-anchor="start">30</text>
<text transform="translate(1850.2,1142) scale(0.8930,1)" font-size="54.8" fill="#0000ff" text-anchor="start">20</text>
<text transform="translate(1850.2,1277) scale(0.8930,1)" font-size="54.8" fill="#0000ff" text-anchor="start">10</text>
<text transform="translate(1850.2,1411) scale(0.8930,1)" font-size="54.8" fill="#0000ff" text-anchor="start">0</text>
<text transform="translate(224.5,1468) scale(0.9053,1)" font-size="54.8" fill="#262626" text-anchor="middle">0</text>
<text transform="translate(522,1468) scale(0.9053,1)" font-size="54.8" fill="#262626" text-anchor="middle">0.5</text>
<text transform="translate(819.5,1468) scale(0.9053,1)" font-size="54.8" fill="#262626" text-anchor="middle">1</text>
<text transform="translate(1117,1468) scale(0.9053,1)" font-size="54.8" fill="#262626" text-anchor="middle">1.5</text>
<text transform="translate(1414.5,1468) scale(0.9053,1)" font-size="54.8" fill="#262626" text-anchor="middle">2</text>
<text transform="translate(1712,1468) scale(0.9053,1)" font-size="54.8" fill="#262626" text-anchor="middle">2.5</text>
<text transform="translate(1714.8,1560.2) scale(0.9440,1)" font-size="60.6" fill="#262626" text-anchor="start">×</text>
<text transform="translate(1754.2,1553) scale(0.8800,1)" font-size="54.8" fill="#262626" text-anchor="start">10</text>
<text transform="translate(1808,1528) scale(0.9120,1)" font-size="43.3" fill="#262626" text-anchor="start">4</text>
<text transform="translate(928,1534.9) scale(0.9210,1)" font-size="53.6" fill="#262626" text-anchor="start">Epoch(s)</text>
<text transform="translate(69.1,982.2) rotate(-90) scale(1.0000,1)" font-size="52.4" fill="#000" text-anchor="start">The phase resiudal(m)</text>
<text transform="translate(1998.1,961.1) rotate(-90) scale(1.0000,1)" font-size="52.5" fill="#0000ff" text-anchor="start">Elevation angle(deg)</text>
<text transform="translate(1432.9,148) scale(0.9280,1)" font-size="53.6" fill="#000" text-anchor="start">Raw</text>
<text transform="translate(1432.9,212.4) scale(0.9280,1)" font-size="53.6" fill="#000" text-anchor="start">MHM</text>
<text transform="translate(1432.9,276.8) scale(0.9280,1)" font-size="53.6" fill="#000" text-anchor="start">MHM-S</text>
<text transform="translate(1432.9,341.2) scale(0.9280,1)" font-size="53.6" fill="#000" text-anchor="start">Elevation angle</text>
</svg>
</body></html>
